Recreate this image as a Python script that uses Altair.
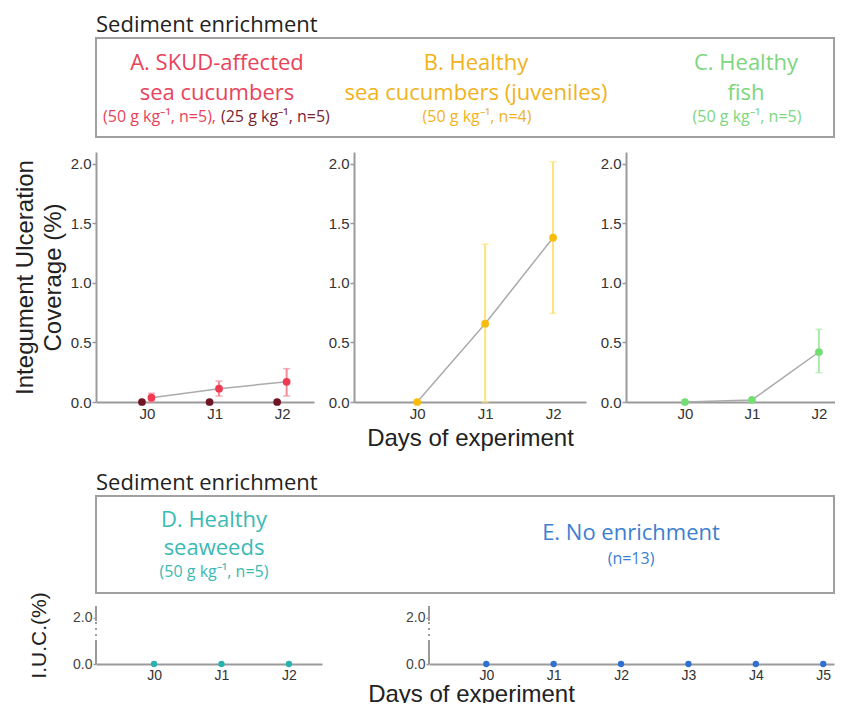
import altair as alt
import pandas as pd

# ---------------- data ----------------
days_3 = [0, 1, 2]
days_6 = [0, 1, 2, 3, 4, 5]

# A. SKUD-affected sea cucumbers
a50_mean = [0.036, 0.112, 0.170]
a50_low = [0.000, 0.050, 0.050]
a50_high = [0.073, 0.176, 0.280]
a25_mean = [0.0, 0.0, 0.0]

# B. Healthy sea cucumbers (juveniles)
b_mean = [0.0, 0.658, 1.380]
b_low = [None, 0.000, 0.745]
b_high = [None, 1.325, 2.017]

# C. Healthy fish
c_mean = [0.0, 0.017, 0.420]
c_low = [None, None, 0.246]
c_high = [None, None, 0.610]

# D. Healthy seaweeds, E. No enrichment
d_mean = [0.0, 0.0, 0.0]
e_mean = [0.0, 0.0, 0.0, 0.0, 0.0, 0.0]

top_ticks = [0, 0.5, 1.0, 1.5, 2.0]
bottom_ticks = [0, 2.0]

# ---------------- style ----------------
HFONT = "Open Sans"
AFONT = "Liberation Sans"
AXC = "#9a9a9a"
LINEC = "#ababab"
RED, RED_ERR, DARKRED = "#ef3a52", "#f38a98", "#6e1624"
YEL, YEL_ERR = "#f8bd0c", "#ffe27c"
GRN, GRN_ERR = "#74de74", "#a9eca9"
TEAL, BLUE = "#27b3ad", "#2f70d0"

TOP_H = 250
TOP_YDOM = [0, 2.1]
BOT_H = 58
BOT_YDOM = [0, 2.5]


def series_df(days, mean, low=None, high=None, dodge=0.0):
    df = pd.DataFrame({"day": days, "m": mean})
    df["x"] = df["day"] + dodge
    df["lo"] = pd.Series(low if low is not None else [None] * len(days), dtype="float")
    df["hi"] = pd.Series(high if high is not None else [None] * len(days), dtype="float")
    return df


def x_axis(n, title=None, size=15, title_x=None, title_pad=5):
    kw = dict(values=list(range(n)), labelExpr="'J' + datum.value", ticks=False,
              labelFont=AFONT, labelFontSize=size, labelColor="#333", labelPadding=4,
              domainColor=AXC, domainWidth=2, grid=False, title=title,
              titleFont=AFONT, titleFontSize=24, titleFontWeight="normal",
              titleColor="#222", titlePadding=title_pad)
    if title_x is not None:
        kw["titleX"] = title_x
    return alt.Axis(**kw)


def y_axis_top(title=None):
    return alt.Axis(values=top_ticks, format=".1f", labelFont=AFONT, labelFontSize=15,
                    labelColor="#333", tickSize=4, tickColor=AXC, tickWidth=1.5,
                    labelPadding=1, domainColor=AXC, domainWidth=2, grid=False,
                    title=title, titleFont=AFONT, titleFontSize=24,
                    titleFontWeight="normal", titleColor="#222", titleLineHeight=28,
                    titlePadding=5)


def y_axis_bottom(title=None):
    return alt.Axis(values=bottom_ticks, format=".1f", labelFont=AFONT, labelFontSize=14,
                    labelColor="#444", tickSize=3, tickColor=AXC, tickWidth=1.5,
                    labelPadding=1, domain=False, grid=False,
                    title=title, titleFont=AFONT, titleFontSize=21,
                    titleFontWeight="normal", titleColor="#222", titlePadding=23)


def top_panel(series, width, xdom, yaxis, xaxis, line_df):
    xs = alt.Scale(domain=xdom, nice=False, zero=False)
    ys = alt.Scale(domain=TOP_YDOM, nice=False)
    X = alt.X("x:Q", scale=xs, axis=xaxis)

    def Y(f):
        return alt.Y(f + ":Q", scale=ys, axis=yaxis)

    layers = [alt.Chart(line_df).mark_line(color=LINEC, strokeWidth=1.5).encode(X, Y("m"))]
    for df, col, err in series:
        eb = alt.Chart(df).transform_filter("isValid(datum.lo) && isValid(datum.hi)")
        layers.append(eb.mark_rule(color=err, strokeWidth=2).encode(X, Y("lo"), y2="hi:Q"))
        layers.append(eb.mark_tick(orient="horizontal", size=7, thickness=1.5, color=err).encode(X, Y("lo")))
        layers.append(eb.mark_tick(orient="horizontal", size=7, thickness=1.5, color=err).encode(X, Y("hi")))
    for df, col, err in series:
        layers.append(alt.Chart(df).mark_circle(size=60, opacity=1, color=col).encode(X, Y("m")))
    return alt.layer(*layers).properties(width=width, height=TOP_H)


def bottom_panel(df, color, width, xdom, yaxis, xaxis):
    xs = alt.Scale(domain=xdom, nice=False, zero=False)
    ys = alt.Scale(domain=BOT_YDOM, nice=False)
    X = alt.X("x:Q", scale=xs, axis=xaxis)
    brk = pd.DataFrame({"y0": [BOT_YDOM[0], 1.85], "y1": [0.95, BOT_YDOM[1]]})
    dash = pd.DataFrame({"y0": [0.95], "y1": [1.85]})
    solid = alt.Chart(brk).mark_rule(color=AXC, strokeWidth=2).encode(
        x=alt.value(0), y=alt.Y("y0:Q", scale=ys, axis=yaxis), y2="y1:Q")
    dashed = alt.Chart(dash).mark_rule(color=AXC, strokeWidth=2, strokeDash=[2, 4]).encode(
        x=alt.value(0), y=alt.Y("y0:Q", scale=ys, axis=yaxis), y2="y1:Q")
    pts = alt.Chart(df).mark_circle(size=40, opacity=1, color=color).encode(
        X, alt.Y("m:Q", scale=ys, axis=yaxis))
    return alt.layer(solid, dashed, pts).properties(width=width, height=BOT_H)


def header(rows, width, height):
    df = pd.DataFrame(rows, columns=["x", "y", "text", "color", "size", "align"])
    xs = alt.Scale(domain=[0, width])
    ys = alt.Scale(domain=[0, height], reverse=True)
    layers = []
    for al in ["center", "left", "right"]:
        layers.append(
            alt.Chart(df).transform_filter(alt.datum.align == al)
            .mark_text(font=HFONT, baseline="alphabetic", align=al)
            .encode(x=alt.X("x:Q", scale=xs, axis=None),
                    y=alt.Y("y:Q", scale=ys, axis=None),
                    text="text:N",
                    color=alt.Color("color:N", scale=None),
                    size=alt.Size("size:Q", scale=None))
        )
    return alt.layer(*layers).properties(
        width=width, height=height,
        view=alt.ViewBackground(stroke="#a0a0a0", strokeWidth=2),
        title=alt.TitleParams("Sediment enrichment", anchor="start", font=HFONT,
                              fontSize=22, fontWeight="normal", color="#222",
                              baseline="alphabetic", offset=-16),
    )


# ---------------- headers ----------------
A_C, A_D = "#e8435a", "#7a2433"
B_C, C_C, D_C, E_C = "#f0b31c", "#7dd67d", "#3bb9b4", "#3c7fd1"
H1W, H1H = 738, 99
top_rows = [
    (121, 32, "A. SKUD-affected", A_C, 22, "center"),
    (121, 62, "sea cucumbers", A_C, 22, "center"),
    (120, 84, "(50 g kg\u207b\u00b9, n=5),", A_C, 16, "right"),
    (125, 84, "(25 g kg\u207b\u00b9, n=5)", A_D, 16, "left"),
    (380, 32, "B. Healthy", B_C, 22, "center"),
    (380, 62, "sea cucumbers (juveniles)", B_C, 22, "center"),
    (381, 84, "(50 g kg\u207b\u00b9, n=4)", B_C, 16, "center"),
    (650, 32, "C. Healthy", C_C, 22, "center"),
    (650, 62, "fish", C_C, 22, "center"),
    (651, 84, "(50 g kg\u207b\u00b9, n=5)", C_C, 16, "center"),
]
H2W, H2H = 738, 97
bot_rows = [
    (118, 31, "D. Healthy", D_C, 22, "center"),
    (118, 59, "seaweeds", D_C, 22, "center"),
    (118, 81, "(50 g kg\u207b\u00b9, n=5)", D_C, 16, "center"),
    (535, 44, "E. No enrichment", E_C, 22, "center"),
    (535, 68, "(n=13)", E_C, 16, "center"),
]
h1 = header(top_rows, H1W, H1H)
h2 = header(bot_rows, H2W, H2H)

# ---------------- panels ----------------
A50_DODGE, A25_DODGE = 0.065, -0.075
a50 = series_df(days_3, a50_mean, a50_low, a50_high, A50_DODGE)
a25 = series_df(days_3, a25_mean, dodge=A25_DODGE)
bdf = series_df(days_3, b_mean, b_low, b_high)
cdf = series_df(days_3, c_mean, c_low, c_high)
ddf = series_df(days_3, d_mean)
edf = series_df(days_6, e_mean)

pa = top_panel([(a25, DARKRED, DARKRED), (a50, RED, RED_ERR)], 218, [-0.755, 2.47],
               y_axis_top(["Integument Ulceration", "Coverage (%)"]), x_axis(3), a50)
pb = top_panel([(bdf, YEL, YEL_ERR)], 232, [-0.93, 2.485],
               y_axis_top(), x_axis(3, "Days of experiment", title_pad=5), bdf)
pc = top_panel([(cdf, GRN, GRN_ERR)], 209, [-0.88, 2.24],
               y_axis_top(), x_axis(3), cdf)

pdd = bottom_panel(ddf, TEAL, 226, [-0.86, 2.49], y_axis_bottom("I.U.C.(%)"), x_axis(3, size=14))
pe = bottom_panel(edf, BLUE, 405, [-0.85, 5.16], y_axis_bottom(),
                  x_axis(6, "Days of experiment", size=14, title_x=42, title_pad=0))

top = alt.vconcat(h1, alt.hconcat(pa, pb, pc, spacing=14), spacing=14)
bot = alt.vconcat(h2, alt.hconcat(pdd, pe, spacing=45), spacing=-3)

chart = (
    alt.vconcat(top, bot, spacing=21)
    .properties(padding={"left": 5, "top": 5, "right": 0, "bottom": -3})
    .configure_view(strokeWidth=0)
)

chart.save("out.html", embed_options={"renderer": "svg", "actions": False})
